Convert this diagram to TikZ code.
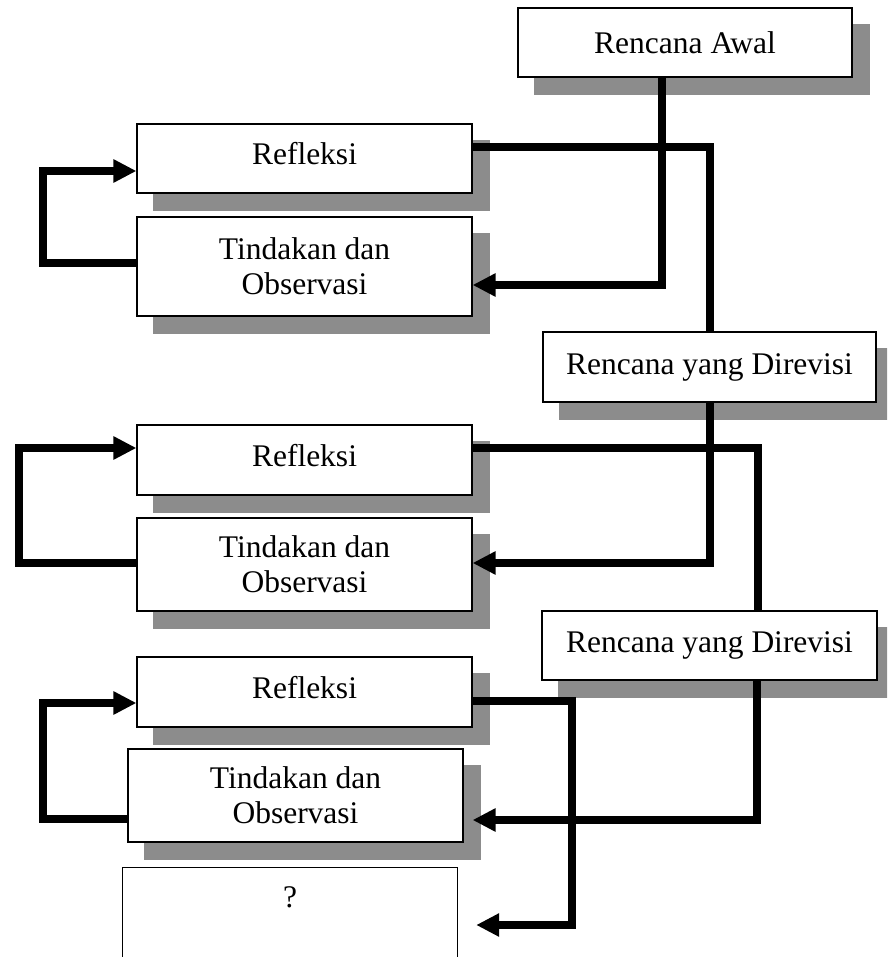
\documentclass[tikz,border=0pt]{standalone}
\usepackage{fontspec}
\setmainfont{Liberation Serif}
\usetikzlibrary{arrows.meta,backgrounds}
\begin{document}
\begin{tikzpicture}[x=1pt,y=-1pt,
  box/.style={draw=black, line width=1.2pt, fill=white, rectangle, inner sep=0pt,
    align=center, font=\fontsize{31.5}{35}\selectfont},
  refl/.style={box, text depth=10pt},
  conn/.style={line width=8.5pt, line join=miter},
  arr/.style={conn, -{Triangle[length=23pt,width=22pt]}},
  shade/.style={fill=black!45}]
\useasboundingbox (0,0) rectangle (887,957);

% boxes
\node[box, minimum width=334pt, minimum height=69pt] (A) at (685,42.5) {Rencana Awal};
\node[refl, minimum width=335pt, minimum height=69pt] (R1) at (304.5,158.5) {Refleksi};
\node[box, minimum width=335pt, minimum height=99pt] (T1) at (304.5,266.5) {Tindakan dan\\Observasi};
\node[box, minimum width=333pt, minimum height=70pt] (D1) at (709.5,367) {Rencana yang Direvisi};
\node[refl, minimum width=335pt, minimum height=70pt] (R2) at (304.5,460) {Refleksi};
\node[box, minimum width=335pt, minimum height=93pt] (T2) at (304.5,564.5) {Tindakan dan\\Observasi};
\node[box, minimum width=335pt, minimum height=69pt] (D2) at (709.5,645.5) {Rencana yang Direvisi};
\node[refl, minimum width=335pt, minimum height=70pt] (R3) at (304.5,692) {Refleksi};
\node[box, minimum width=335pt, minimum height=93pt] (T3) at (295.5,795.5) {Tindakan dan\\Observasi};
\node[minimum width=334pt, minimum height=89pt, inner sep=0pt] (Q) at (290,912.5) {};
\draw[line width=1.2pt] (Q.south west) |- (Q.north east) -- (Q.south east);
\node[font=\fontsize{31.5}{35}\selectfont, inner sep=0pt] (qm) at (290,897) {?};

% shadows
\begin{scope}[on background layer]
  \clip (0,0) rectangle (887,957);
  \foreach \n in {A,R1,T1,D1,R2,T2,D2,R3,T3}{
    \fill[shade] ([shift={(17,17)}]\n.north west) rectangle ([shift={(17,17)}]\n.south east);
  }
\end{scope}

% connector coordinates
\coordinate (k1) at (662,285);
\coordinate (k2) at (710,147);
\coordinate (k3) at (43,263);
\coordinate (k4) at (43,171);
\coordinate (k5) at (710,563);
\coordinate (k6) at (758,448);
\coordinate (k7) at (19,563);
\coordinate (k8) at (19,448);
\coordinate (k9) at (757,820);
\coordinate (k10) at (43,819);
\coordinate (k11) at (43,703);
\coordinate (k12) at (572,701);
\coordinate (k13) at (572,925);
\path (T3.east) ++(9,0) coordinate (t3e);
\path (Q.east) ++(19,0) coordinate (qe);

% connectors
\draw[arr] (A.south -| k1) |- (T1.east |- k1);
\draw[conn] (R1.east |- k2) -| (D1.north -| k2);
\draw[arr] (T1.west |- k3) -- (k3) -- (k4) -- (R1.west |- k4);

\draw[arr] (D1.south -| k5) |- (T2.east |- k5);
\draw[conn] (R2.east |- k6) -| (D2.north -| k6);
\draw[arr] (T2.west |- k7) -- (k7) -- (k8) -- (R2.west |- k8);

\draw[arr] (D2.south -| k9) |- (t3e |- k9);
\draw[arr] (T3.west |- k10) -- (k10) -- (k11) -- (R3.west |- k11);
\draw[arr] (R3.east |- k12) -- (k12) -- (k13) -- (qe |- k13);
\end{tikzpicture}
\end{document}
